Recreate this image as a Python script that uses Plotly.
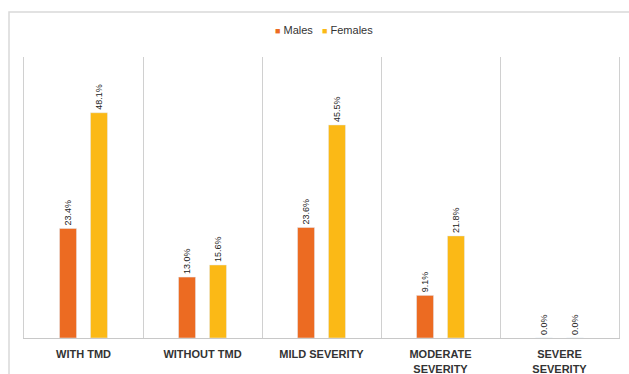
import plotly.graph_objects as go

categories = ["WITH TMD", "WITHOUT TMD", "MILD SEVERITY", "MODERATE<br>SEVERITY", "SEVERE<br>SEVERITY"]
males = [23.4, 13.0, 23.6, 9.1, 0.0]
females = [48.1, 15.6, 45.5, 21.8, 0.0]
series_names = ["Males", "Females"]
series_colors = ["#EC6B22", "#FBB916"]

W, H = 629, 374
ml, mr, mt, mb = 24, 10, 57, 36

fig = go.Figure()
for name, vals, col in zip(series_names, [males, females], series_colors):
    fig.add_trace(go.Bar(
        name=name, x=categories, y=vals, marker_color=col, showlegend=False,
        texttemplate="%{y:.1f}%", textposition="outside", textangle=-90,
        textfont=dict(size=9, color="#222", family="Liberation Sans Narrow, Liberation Sans, Arial"),
        cliponaxis=False,
    ))

pw = W - ml - mr
ph = H - mt - mb
fig.add_shape(type="rect", xref="paper", yref="paper",
              x0=(9 - ml) / pw, x1=(W + 5 - ml) / pw,
              y0=-(H + 5 - mt - ph) / ph, y1=1 + (mt - 12) / ph,
              line=dict(color="#D9D9D9", width=1.5), fillcolor="rgba(0,0,0,0)", layer="below")

legend_text = "   ".join(
    f"<span style='color:{c}; font-size:9px'>■</span> {n}" for n, c in zip(series_names, series_colors)
)
fig.add_annotation(xref="paper", yref="paper", x=(324 - ml) / pw, y=1 + (mt - 30) / ph,
                   text=legend_text, showarrow=False, xanchor="center", yanchor="middle",
                   font=dict(size=11, color="#333", family="Liberation Sans, Arial"))

fig.update_layout(
    width=W, height=H,
    margin=dict(l=ml, r=mr, t=mt, b=mb, autoexpand=False),
    paper_bgcolor="white", plot_bgcolor="white",
    barmode="group", bargap=0.48, bargroupgap=0.45,
    uniformtext=dict(minsize=8, mode="show"),
    showlegend=False,
    xaxis=dict(showgrid=True, gridcolor="#D0D0D0", gridwidth=1, tickson="boundaries",
               ticks="", showline=True, linecolor="#C8C8C8", linewidth=1, mirror=False,
               ticklabelstandoff=6, automargin=False,
               tickfont=dict(size=11, color="#333", family="Liberation Sans, Arial", weight="bold")),
    yaxis=dict(range=[0, 60], showgrid=False, showticklabels=False, zeroline=False,
               automargin=False,
               showline=True, linecolor="#D0D0D0", linewidth=1, mirror=True, ticks=""),
)

fig.write_html("out.html")
